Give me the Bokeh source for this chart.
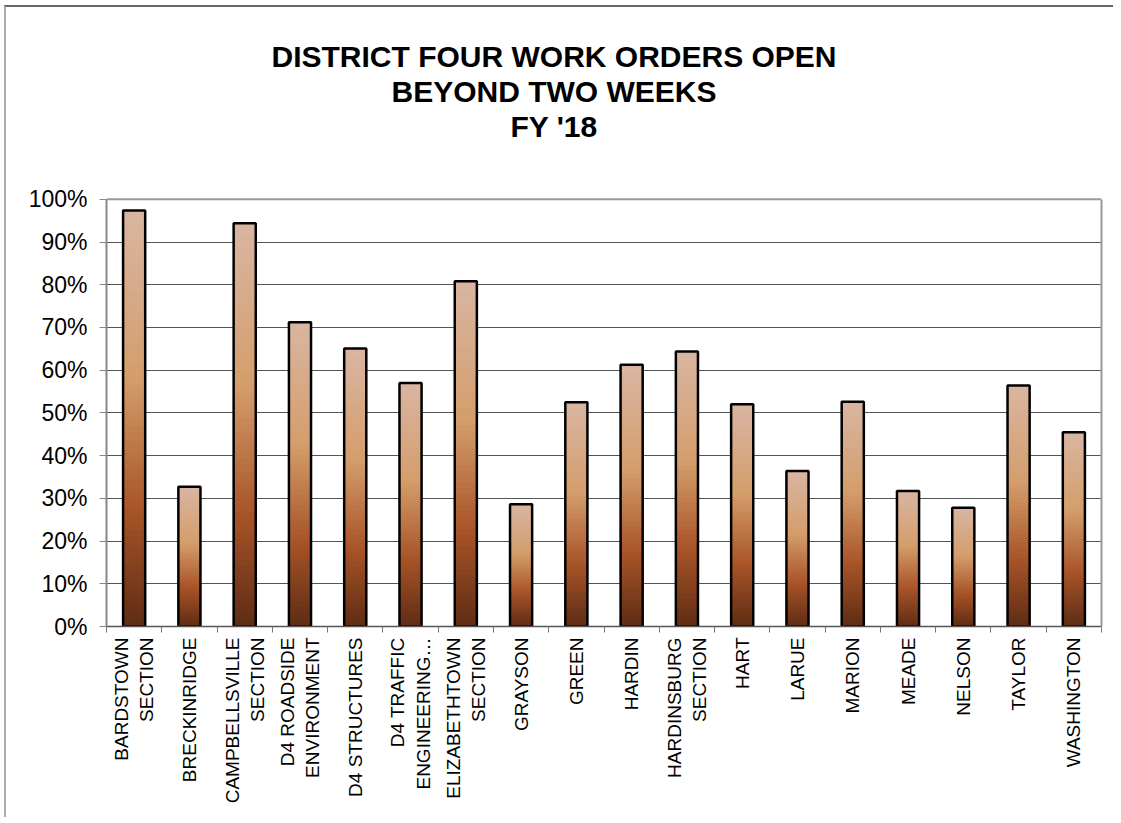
import math
from bokeh.plotting import figure
from bokeh.models import Range1d, LinearAxis, FixedTicker, NumeralTickFormatter, Title, ColumnDataSource, Span
from bokeh.embed import file_html
from bokeh.resources import INLINE

categories = ["BARDSTOWN\nSECTION", "BRECKINRIDGE", "CAMPBELLSVILLE\nSECTION",
              "D4 ROADSIDE\nENVIRONMENT", "D4 STRUCTURES", "D4 TRAFFIC\nENGINEERING\u2026",
              "ELIZABETHTOWN\nSECTION", "GRAYSON", "GREEN", "HARDIN",
              "HARDINSBURG\nSECTION", "HART", "LARUE", "MARION", "MEADE", "NELSON",
              "TAYLOR", "WASHINGTON"]
values = [0.974, 0.327, 0.944, 0.712, 0.651, 0.570, 0.808, 0.286, 0.525, 0.613,
          0.644, 0.520, 0.364, 0.526, 0.317, 0.278, 0.564, 0.455]
title_lines = ["DISTRICT FOUR WORK ORDERS OPEN", "BEYOND TWO WEEKS", "FY '18"]
y_ticks = [0.0, 0.1, 0.2, 0.3, 0.4, 0.5, 0.6, 0.7, 0.8, 0.9, 1.0]

FONT = "Liberation Sans"
n = len(categories)
idx = list(range(n))
Y_MAX = 1.0
HEADROOM = 0.133  # empty space between the plot area and the title block

p = figure(width=1109, height=812, output_backend="svg", toolbar_location=None,
           x_range=Range1d(-0.5, n - 0.5), y_range=Range1d(0, Y_MAX + HEADROOM),
           x_axis_location=None, y_axis_location="left", title=None,
           min_border_left=100, min_border_right=14, min_border_top=135, min_border_bottom=193)
p.background_fill_color = "white"
p.border_fill_color = "white"
p.outline_line_color = None
p.styles = {"border-top": "2px solid #666666", "border-left": "2px solid #aaaaaa",
            "margin-left": "4px", "margin-top": "5px"}

# title lines: nearest the frame first; left-aligned with offsets so the block is centred on the chart
title_offsets = [165, 285, 404]
for line, off in reversed(list(zip(title_lines, title_offsets))):
    t = Title(text=line, align="left", offset=off, standoff=0, text_font=FONT,
              text_font_size="30px", text_font_style="bold", text_color="black")
    p.add_layout(t, "above")

# gradient bars: overlapping layers, tallest first, so there are no seams
stops = [(0.0, (94, 44, 20)), (0.28, (168, 84, 40)), (0.6, (212, 158, 108)), (1.0, (217, 181, 162))]
def grad(f):
    for (a, ca), (b, cb) in zip(stops[:-1], stops[1:]):
        if a <= f <= b:
            t = (f - a) / (b - a)
            c = [round(ca[k] + (cb[k] - ca[k]) * t) for k in range(3)]
            return "#%02x%02x%02x" % tuple(c)
    return "#%02x%02x%02x" % stops[-1][1]

N = 60
xs, tops, cols = [], [], []
for k in range(N, 0, -1):
    for i, v in zip(idx, values):
        xs.append(i)
        tops.append(v * k / N)
        cols.append(grad((k - 0.5) / N))
src = ColumnDataSource(dict(x=xs, top=tops, color=cols))
p.vbar(x="x", bottom=0, top="top", width=0.4, fill_color="color", line_color=None, source=src)
p.vbar(x=idx, top=values, bottom=0, width=0.4, fill_color=None, line_color="black", line_width=2.5)

# y axis (line limited to 0..100%)
yax = p.yaxis[0]
yax.ticker = FixedTicker(ticks=y_ticks)
yax.bounds = (0, Y_MAX)
yax.formatter = NumeralTickFormatter(format="0%")
yax.major_label_text_font = FONT
yax.major_label_text_font_size = "23px"
yax.major_label_text_color = "black"
yax.major_tick_out = 7
yax.major_tick_in = 0
yax.minor_tick_line_color = None
yax.axis_line_color = "#888888"
yax.axis_line_width = 2
yax.major_tick_line_color = "#888888"
yax.major_label_standoff = 12

# right-hand border of the plot area
rax = LinearAxis(ticker=FixedTicker(ticks=[]), bounds=(0, Y_MAX), major_tick_out=0, major_tick_in=0,
                 minor_tick_line_color=None, major_tick_line_color=None,
                 axis_line_color="#999999", axis_line_width=2,
                 major_label_text_font_size="1px", major_label_text_color=None, major_label_standoff=0)
p.add_layout(rax, "right")

for g in p.grid:
    if g.dimension == 0:
        g.visible = False
    else:
        g.ticker = FixedTicker(ticks=y_ticks[:-1])
        g.grid_line_color = "#555555"
        g.grid_line_width = 1

# top border of the plot area at 100%
p.add_layout(Span(location=Y_MAX, dimension="width", line_color="#999999", line_width=2))

# x axes: one with boundary ticks, one with labels
bounds = [i - 0.5 for i in range(n + 1)]
tick_ax = LinearAxis(ticker=FixedTicker(ticks=bounds), major_tick_out=6, major_tick_in=0,
                     minor_tick_line_color=None, axis_line_color="#555555", axis_line_width=1.5,
                     major_tick_line_color="#777777", major_label_text_font_size="1px",
                     major_label_text_color=None, major_label_standoff=0)
lab_ax = LinearAxis(ticker=FixedTicker(ticks=idx), major_tick_out=0, major_tick_in=0,
                    minor_tick_line_color=None, axis_line_color=None, major_tick_line_color=None,
                    major_label_overrides={i: c for i, c in zip(idx, categories)},
                    major_label_orientation=math.pi / 2, major_label_standoff=5,
                    major_label_text_font=FONT, major_label_text_font_size="19px",
                    major_label_text_color="black")
p.add_layout(tick_ax, "below")
p.add_layout(lab_ax, "below")

open("out.html", "w").write(file_html(p, INLINE))
